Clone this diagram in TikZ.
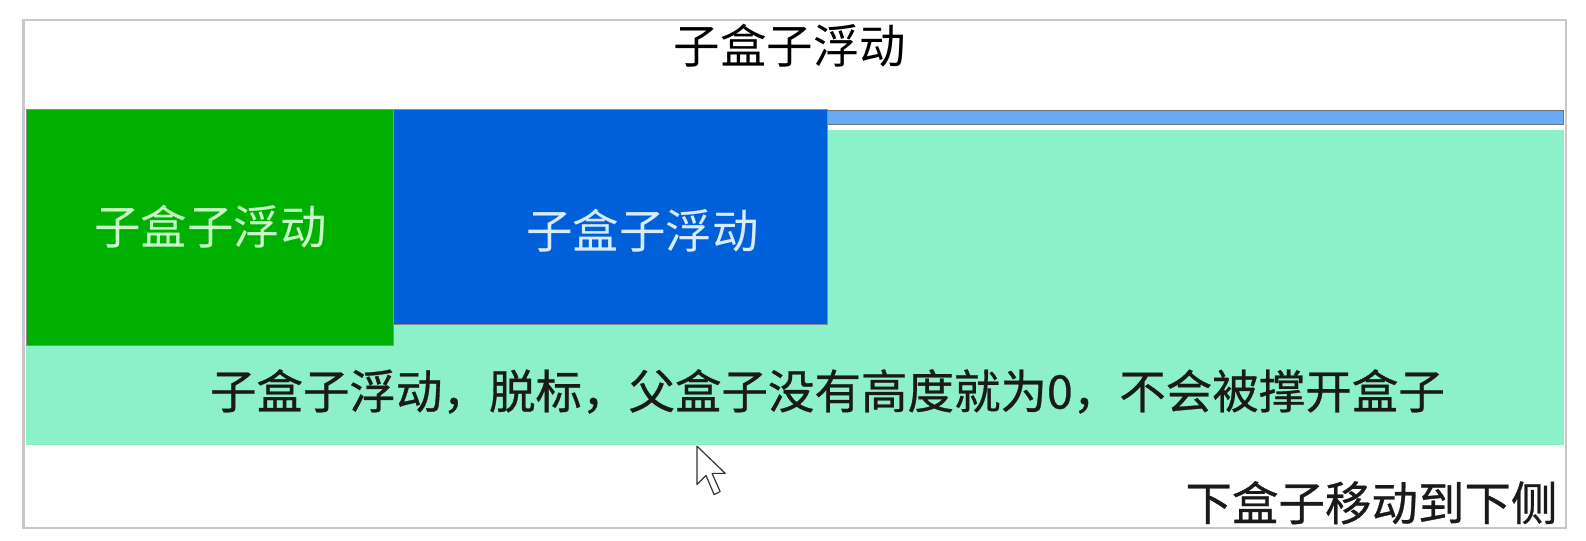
\documentclass[tikz,border=0pt]{standalone}
\usepackage{fontspec}
\newfontfamily\cjk{Noto Sans CJK SC}
\newfontfamily\cjkheavy{Noto Sans CJK SC}[FakeBold=0.6]
\definecolor{outerline}{HTML}{C8C8C8}
\definecolor{greenbox}{HTML}{00B000}
\definecolor{bluebox}{HTML}{0060DA}
\definecolor{barblue}{HTML}{66AAF8}
\definecolor{aqua}{HTML}{8CF0C8}
\definecolor{greentext}{HTML}{C8FAC8}
\definecolor{bluetext}{HTML}{D8ECFF}
\definecolor{darktext}{HTML}{1A1A1A}
\tikzset{
  label45/.style={font=\cjk\fontsize{46.5}{56}\selectfont, inner sep=0pt},
  label45h/.style={font=\cjkheavy\fontsize{46.5}{56}\selectfont, inner sep=0pt},
}
\begin{document}
\begin{tikzpicture}[x=1.01148pt,y=-1.01148pt]
\useasboundingbox (0,0) rectangle (1568,533.88);
\fill[white] (0,0) rectangle (1568,533.88);
% outer container
\draw[outerline, line width=2.5pt] (23,20) rectangle (1548,522);
% aquamarine parent box
\fill[aqua] (26,129) rectangle (1546,440);
% light blue bar
\fill[barblue, draw=black!55, line width=1pt] (818,109) rectangle (1546,123);
% green box
\fill[greenbox, draw=black!45, line width=1pt] (26,108) rectangle (389,342);
% blue box
\fill[bluebox, draw=black!45, line width=1pt] (389,108) rectangle (818,321);
% texts
\node[label45, text=black] (title) at (781,45) {子盒子浮动};
\node[label45, text=greentext] (gtext) at (208,224) {子盒子浮动};
\node[label45, text=bluetext] (btext) at (635,228) {子盒子浮动};
\node[label45h, text=darktext] (mid) at (818,387) {子盒子浮动，脱标，父盒子没有高度就为0，不会被撑开盒子};
\node[label45h, text=darktext, anchor=east] (bot) at (1540,497) {下盒子移动到下侧};
% mouse cursor
\draw[fill=white, draw=black!80, line width=1.2pt, line join=round]
  (689,441) -- (689,479) -- (698,470) -- (706,489) -- (712,486) -- (704,468) -- (717,468) -- cycle;
\end{tikzpicture}
\end{document}
